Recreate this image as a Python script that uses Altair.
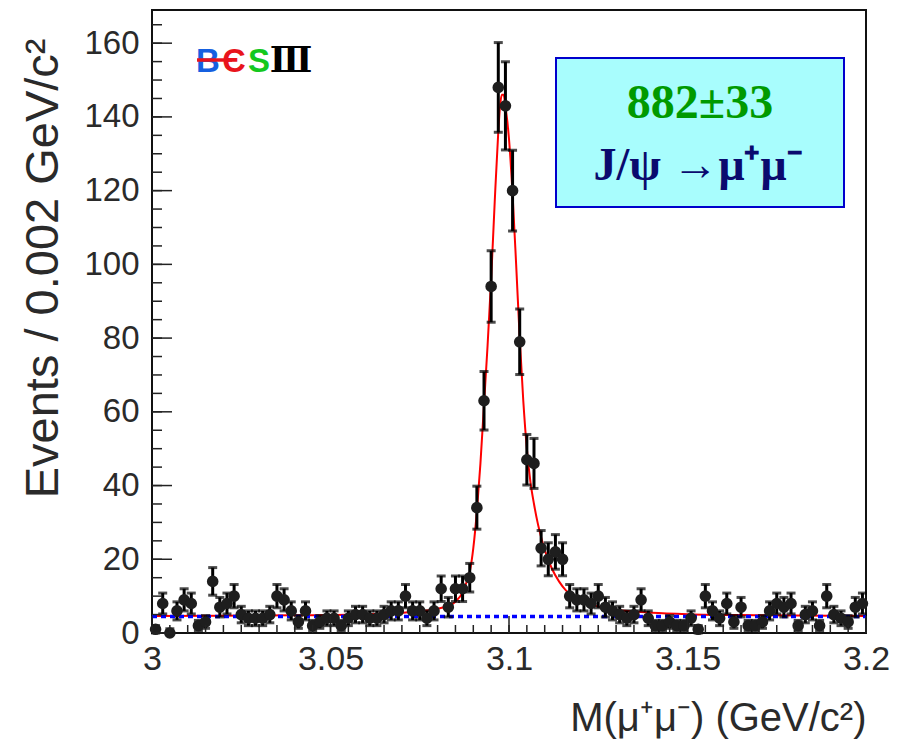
import altair as alt
import pandas as pd
import numpy as np

# ---------------- data ----------------
bin_low = 3.0
bin_width = 0.002
counts = [1, 8, 0, 6, 9, 8, 2, 3, 14, 7,
          8, 10, 5, 4, 4, 4, 5, 10, 9, 6,
          3, 6, 2, 3, 4, 4, 2, 4, 5, 5,
          4, 4, 5, 6, 6, 10, 6, 6, 4, 6,
          12, 7, 12, 12, 15, 34, 63, 94, 148, 143,
          120, 79, 47, 46, 23, 20, 22, 20, 10, 9,
          9, 8, 10, 7, 6, 5, 4, 5, 9, 4,
          2, 2, 3, 2, 2, 4, 1, 10, 6, 4,
          8, 3, 7, 2, 2, 3, 6, 8, 7, 8,
          2, 5, 6, 2, 10, 5, 4, 3, 7, 8]

curve_x = [3.000, 3.020, 3.040, 3.060, 3.070, 3.075, 3.080, 3.083, 3.085, 3.087,
           3.088, 3.089, 3.090, 3.091, 3.092, 3.093, 3.094, 3.095, 3.096, 3.097,
           3.0975, 3.098, 3.0985, 3.099, 3.100, 3.101, 3.102, 3.103, 3.104, 3.105,
           3.106, 3.107, 3.108, 3.109, 3.110, 3.112, 3.114, 3.116, 3.118, 3.120,
           3.125, 3.130, 3.140, 3.150, 3.170, 3.200]
curve_y = [4.6, 4.7, 4.8, 5.1, 5.5, 5.9, 6.6, 7.4, 8.5, 11.0,
           13.5, 16.5, 23, 33, 46, 62, 78, 96, 117, 136,
           143, 146, 146, 143, 134, 119, 100, 80, 63, 50,
           41, 35, 30, 26, 22.5, 17.5, 14, 11.5, 10, 9,
           7.2, 6.3, 5.5, 5.1, 4.8, 4.6]

bkg_x = [3.0, 3.2]
bkg_y = [4.5, 4.5]

x_major = [3.0, 3.05, 3.1, 3.15, 3.2]
x_minor = [3.0, 3.005, 3.01, 3.015, 3.02, 3.025, 3.03, 3.035, 3.04, 3.045,
           3.05, 3.055, 3.06, 3.065, 3.07, 3.075, 3.08, 3.085, 3.09, 3.095,
           3.1, 3.105, 3.11, 3.115, 3.12, 3.125, 3.13, 3.135, 3.14, 3.145,
           3.15, 3.155, 3.16, 3.165, 3.17, 3.175, 3.18, 3.185, 3.19, 3.195, 3.2]
y_major = [0, 20, 40, 60, 80, 100, 120, 140, 160]
y_minor = [0, 5, 10, 15, 20, 25, 30, 35, 40, 45, 50, 55, 60, 65, 70, 75, 80,
           85, 90, 95, 100, 105, 110, 115, 120, 125, 130, 135, 140, 145, 150,
           155, 160, 165]

signal_text = "882±33"
decay_text = "J/ψ →μ⁺μ⁻"
x_title = "M(μ⁺μ⁻) (GeV/c²)"
y_title = "Events / 0.002 GeV/c²"

# ---------------- chart ----------------
W, H = 714, 623
FONT = "Liberation Sans"
TXT = "#2a2a2a"

centers = [round(bin_low + bin_width * (i + 0.5), 4) for i in range(len(counts))]
n = np.array(counts, dtype=float)
err = np.sqrt(n)
lo = n - err
hi = np.where(n > 0, n + err, 1.15)
df = pd.DataFrame({"m": centers, "n": n, "lo": lo, "hi": hi})

xs = alt.Scale(domain=[3.0, 3.2], nice=False, zero=False)
ys = alt.Scale(domain=[0, 169], nice=False, zero=False)

xaxis = alt.Axis(values=x_major, format="~g", ticks=False, tickSize=0, domain=False,
                 grid=False, labelFontSize=34, labelFont=FONT, labelColor=TXT,
                 labelPadding=9, labelFlush=False, labelOverlap=False,
                 title=x_title, titleFont=FONT, titleFontSize=40, titleFontWeight="normal",
                 titleColor=TXT, titleAlign="right", titleBaseline="alphabetic",
                 titleX=W, titleY=97)
yaxis = alt.Axis(values=y_major, ticks=False, tickSize=0, domain=False, grid=False,
                 labelFontSize=33, labelFont=FONT, labelColor=TXT, labelPadding=13,
                 labelFlush=False, labelOverlap=False,
                 title=y_title, titleFont=FONT, titleFontSize=47, titleFontWeight="normal",
                 titleColor=TXT, titleAlign="right", titleBaseline="alphabetic",
                 titleAngle=270, titleX=-95, titleY=28)

X = alt.X("m:Q", scale=xs, axis=xaxis)

curve = alt.Chart(pd.DataFrame({"m": curve_x, "n": curve_y})).mark_line(
    color="#ff0000", strokeWidth=2, interpolate="monotone"
).encode(x=X, y=alt.Y("n:Q", scale=ys, axis=yaxis))

bkg = alt.Chart(pd.DataFrame({"m": bkg_x, "n": bkg_y})).mark_line(
    color="#0000ff", strokeWidth=3.5, strokeDash=[5, 4]
).encode(x=X, y=alt.Y("n:Q", scale=ys, axis=yaxis))

bars = alt.Chart(df).mark_rule(color="#000000", strokeWidth=3).encode(
    x=X, y=alt.Y("lo:Q", scale=ys, axis=yaxis), y2="hi:Q")
cap_lo = alt.Chart(df).mark_tick(color="#000000", orient="horizontal", size=9, thickness=3).encode(
    x=X, y=alt.Y("lo:Q", scale=ys, axis=yaxis))
cap_hi = alt.Chart(df).mark_tick(color="#000000", orient="horizontal", size=9, thickness=3).encode(
    x=X, y=alt.Y("hi:Q", scale=ys, axis=yaxis))
pts = alt.Chart(df).mark_circle(color="#1e1e1e", opacity=1, size=135).encode(
    x=X, y=alt.Y("n:Q", scale=ys, axis=yaxis))

# inside ticks (ROOT style)
xmaj = alt.Chart(pd.DataFrame({"m": x_major})).mark_rule(color="#222", strokeWidth=1.5).encode(
    x=X, y=alt.value(H), y2=alt.value(H - 17))
xmin = alt.Chart(pd.DataFrame({"m": x_minor})).mark_rule(color="#222", strokeWidth=1.5).encode(
    x=X, y=alt.value(H), y2=alt.value(H - 8))
ymaj = alt.Chart(pd.DataFrame({"n": y_major})).mark_rule(color="#222", strokeWidth=1.5).encode(
    y=alt.Y("n:Q", scale=ys, axis=yaxis), x=alt.value(0), x2=alt.value(20))
ymin = alt.Chart(pd.DataFrame({"n": y_minor})).mark_rule(color="#222", strokeWidth=1.5).encode(
    y=alt.Y("n:Q", scale=ys, axis=yaxis), x=alt.value(0), x2=alt.value(10))

one = pd.DataFrame({"a": [0]})
box = alt.Chart(one).mark_rect(fill="#a8fdfd", stroke="#0000cc", strokeWidth=2).encode(
    x=alt.value(404), x2=alt.value(692), y=alt.value(48), y2=alt.value(197))
t1 = alt.Chart(one).mark_text(font="Liberation Serif", fontWeight="bold", fontSize=48,
                              color="#009a00", align="center", baseline="alphabetic").encode(
    x=alt.value(548), y=alt.value(108), text=alt.value(signal_text))
t2 = alt.Chart(one).mark_text(font="Liberation Serif", fontWeight="bold", fontSize=46,
                              color="#0a0a6e", align="center", baseline="alphabetic").encode(
    x=alt.value(546), y=alt.value(170), text=alt.value(decay_text))

# BESIII logo
LOGO_BASE = 62
LOGO_SIZE = 33
logo_B = alt.Chart(one).mark_text(font=FONT, fontWeight="bold", fontSize=LOGO_SIZE, color="#1560e0",
                                  align="center", baseline="alphabetic").encode(
    x=alt.value(56), y=alt.value(LOGO_BASE), text=alt.value("B"))
logo_E = alt.Chart(one).mark_text(font=FONT, fontWeight="bold", fontSize=LOGO_SIZE, color="#e8141c",
                                  align="center", baseline="alphabetic").encode(
    x=alt.value(82), y=alt.value(LOGO_BASE), text=alt.value("Є"))
logo_S = alt.Chart(one).mark_text(font=FONT, fontWeight="bold", fontSize=LOGO_SIZE, color="#14c81e",
                                  align="center", baseline="alphabetic").encode(
    x=alt.value(107), y=alt.value(LOGO_BASE), text=alt.value("S"))
logo_III = alt.Chart(one).mark_text(font="DejaVu Serif", fontWeight="bold", fontSize=35, color="#000000",
                                    align="center", baseline="alphabetic").encode(
    x=alt.value(139), y=alt.value(LOGO_BASE), text=alt.value("Ⅲ"))
logo_bar = alt.Chart(one).mark_rule(color="#e8141c", strokeWidth=3.5).encode(
    x=alt.value(45), x2=alt.value(80), y=alt.value(LOGO_BASE - 12))

chart = alt.layer(
    curve, bkg, bars, cap_lo, cap_hi, pts, xmaj, xmin, ymaj, ymin,
    box, t1, t2, logo_B, logo_E, logo_S, logo_III, logo_bar
).properties(
    width=W, height=H,
    padding={"left": 144, "top": 2, "right": 24, "bottom": 110},
    autosize="none",
    background="white",
).configure_view(stroke="#111111", strokeWidth=2)

chart.save("out.html", embed_options={"renderer": "svg", "actions": False})
